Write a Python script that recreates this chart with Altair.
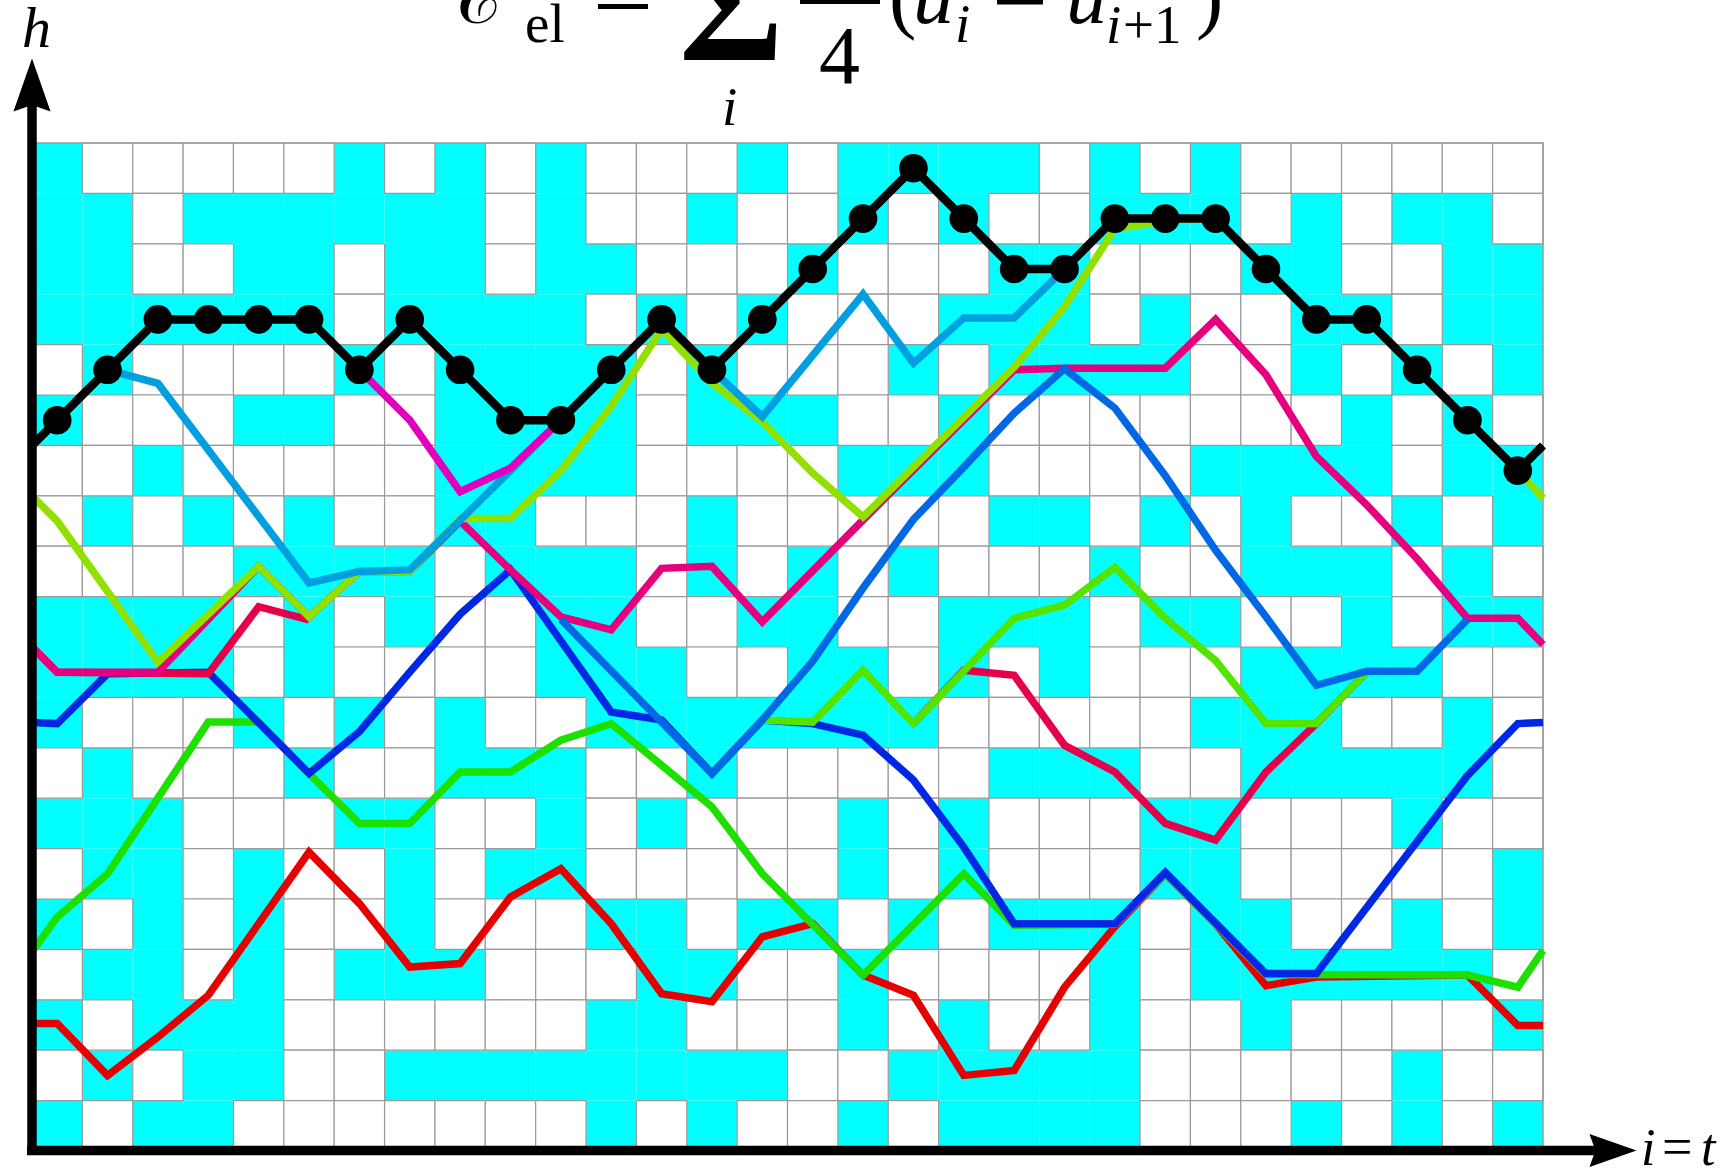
import altair as alt
import pandas as pd

N_COLS, N_ROWS = 30, 20

# Occupied (cyan) cells, one string per row from the top row down: '#' occupied, '.' empty
CELL_ROWS = [
    "#.....#.#." "#...#.####" ".#.#......",
    "##.######." "#..#..#.#." ".###.#.##.",
    "##..##.##." "##...#...#" "#...##..##",
    "######.###" "#.#.#...##" "#.#..##.##",
    ".#....#.##" "##.#...#.#" "###..#.#.#",
    "#...##..##" "##.###..#." "......#.#.",
    "..#.....##" "##....###." "...####.##",
    ".#.#.#..##" "...#.....#" "#.#.#..#.#",
    "....####.#" "##.#.#.#.." ".#..###.#.",
    "####.#.#.." "##..##..##" "#.##..#.##",
    "####.#...." "###..##.#." "#...####..",
    "#...#.#.#." ".#######.." "...###..#.",
    ".#...#..##" "#..#.....#" "##..#####.",
    "###...##.." "#.#...#.#." "..##...#..",
    ".##.#..#.#" "#.....#.#." "..##.....#",
    "#.#.#..#.." ".##.##.#.#" "##.##..#.#",
    ".##.#.###." "..##..#..." ".#.######.",
    "#.###....." ".##...#.#." ".#..#....#",
    ".#.##..###" "#####..###" "##.....#..",
    "#.##......" ".#.#..#.##" "##...#.#.#",
]

# Interface heights h at each column centre (top path, drawn with dots)
TOP_H = [14.5, 15.5, 16.5, 16.5, 16.5, 16.5, 15.5, 16.5, 15.5, 14.5,
         14.5, 15.5, 16.5, 15.5, 16.5, 17.5, 18.5, 19.5, 18.5, 17.5,
         17.5, 18.5, 18.5, 18.5, 17.5, 16.5, 16.5, 15.5, 14.5, 13.5]
TOP_EDGE = (14.0, 14.0)

# Other polymer paths: (i, h) vertices
SKY = [(1.5, 15.5), (2.5, 15.23), (5.5, 11.27), (6.5, 11.5), (7.5, 11.53), (9.5, 13.5),
       (10.5, 14.5), (11.5, 15.5), (12.5, 16.5), (13.5, 15.5), (14.5, 14.57), (16.5, 17.0),
       (17.5, 15.63), (18.5, 16.53), (19.5, 16.53), (20.5, 17.5)]
MAGENTA = [(6.5, 15.5), (7.5, 14.5), (8.5, 13.08), (9.5, 13.55), (10.5, 14.5)]
YELLOWGREEN = [(0, 13.0), (0.5, 12.5), (2.5, 9.7), (4.5, 11.6), (5.5, 10.6), (6.5, 11.5),
               (7.5, 11.5), (8.5, 12.55), (9.5, 12.55), (10.5, 13.5), (11.5, 14.78),
               (12.5, 16.3), (13.5, 15.24), (14.5, 14.47), (15.5, 13.45), (16.5, 12.58),
               (19.5, 15.55), (20.5, 16.75), (21.5, 18.3), (22.5, 18.45), (23.5, 18.5),
               (24.5, 17.5), (25.5, 16.5), (26.5, 16.5), (27.5, 15.5), (28.5, 14.5),
               (29.5, 13.5), (30, 12.95)]
PINK = [(0, 10.0), (0.5, 9.5), (2.5, 9.5), (4.5, 11.6), (5.5, 10.6), (6.5, 11.5), (7.5, 11.5),
        (8.5, 12.5), (9.5, 11.53), (10.5, 10.6), (11.5, 10.34), (12.5, 11.56), (13.5, 11.6),
        (14.5, 10.5), (16.5, 12.52), (19.5, 15.5), (20.5, 15.53), (21.5, 15.53), (22.5, 15.53),
        (23.5, 16.5), (24.5, 15.4), (25.5, 13.78), (26.5, 12.82), (27.5, 11.75), (28.5, 10.57),
        (29.5, 10.57), (30, 10.05)]
BLUE = [(0, 8.5), (0.5, 8.48), (1.5, 9.47), (3.5, 9.5), (5.5, 7.49), (6.5, 8.32), (7.5, 9.5),
        (8.5, 10.65), (9.5, 11.53), (10.5, 10.12), (11.5, 8.71), (12.5, 8.55), (13.5, 7.49),
        (14.5, 8.55), (15.5, 8.48), (16.5, 8.25), (17.5, 7.36), (18.5, 6.03), (19.5, 4.51),
        (21.5, 4.51), (22.5, 5.53), (24.5, 3.52), (25.5, 3.52), (28.5, 7.45), (29.5, 8.48),
        (30, 8.5)]
MIDBLUE = [(10.5, 10.55), (13.5, 7.49), (14.5, 8.55), (15.5, 9.72), (16.5, 11.17), (17.5, 12.53),
           (18.5, 13.57), (19.5, 14.64), (20.5, 15.52), (21.5, 14.74), (22.5, 13.4), (23.5, 11.92),
           (24.5, 10.6), (25.5, 9.24), (26.5, 9.52), (27.5, 9.52), (28.5, 10.55)]
GREEN = [(0, 3.95), (0.5, 4.64), (1.5, 5.5), (3.5, 8.51), (4.5, 8.51), (5.5, 7.49), (6.5, 6.5),
         (7.5, 6.5), (8.5, 7.52), (9.5, 7.52), (10.5, 8.15), (11.5, 8.48), (13.5, 6.83),
         (14.5, 5.5), (16.5, 3.49), (18.5, 5.5), (19.5, 4.48), (21.5, 4.5), (22.5, 5.5),
         (24.5, 3.5), (28.5, 3.49), (29.5, 3.25), (30, 3.98)]
LIME = [(14.5, 8.55), (15.5, 8.51), (16.5, 9.54), (17.5, 8.48), (18.5, 9.52), (19.5, 10.57),
        (20.5, 10.83), (21.5, 11.58), (22.5, 10.57), (23.5, 9.73), (24.5, 8.48), (25.5, 8.48),
        (26.5, 9.5)]
RED = [(0, 2.53), (0.5, 2.53), (1.5, 1.5), (2.5, 2.26), (3.5, 3.09), (5.5, 5.93), (6.5, 4.91),
       (7.5, 3.65), (8.5, 3.72), (9.5, 5.04), (10.5, 5.6), (11.5, 4.51), (12.5, 3.12),
       (13.5, 2.96), (14.5, 4.25), (15.5, 4.51), (16.5, 3.49), (17.5, 3.09), (18.5, 1.5),
       (19.5, 1.6), (20.5, 3.25), (21.5, 4.45), (22.5, 5.5), (23.5, 4.5), (24.5, 3.28),
       (25.5, 3.45), (28.5, 3.49), (29.5, 2.49), (30, 2.49)]
CRIMSON_A = [(0, 10.0), (0.5, 9.5), (3.5, 9.47), (4.5, 10.8), (5.5, 10.54)]
CRIMSON_B = [(17.5, 8.48), (18.5, 9.54), (19.5, 9.44), (20.5, 8.05), (21.5, 7.52), (22.5, 6.5),
             (23.5, 6.17), (24.5, 7.52), (25.5, 8.48), (26.5, 9.5)]

# ---- layout (page pixels) ----
OX, OY = 32, 143          # top-left corner of the lattice
GRID_W, GRID_H = 1511, 1008
PAGE_W, PAGE_H = 1728, 1172
SERIF = "Liberation Serif, DejaVu Serif, serif"
PATH_W, TOP_W = 7.5, 8.5

xs = alt.Scale(domain=[0, N_COLS], nice=False, zero=False)
ys = alt.Scale(domain=[0, N_ROWS], nice=False, zero=False)

# lattice cells
cells = []
for r, row in enumerate(CELL_ROWS):
    for c, ch in enumerate(row):
        top = N_ROWS - r
        cells.append({"x0": c, "x1": c + 1, "y0": top - 1, "y1": top,
                      "state": "occ" if ch == "#" else "empty"})
cells = pd.DataFrame(cells)

occupied = alt.Chart(cells).transform_filter(alt.datum.state == "occ").mark_rect(
    fill="#00FFFF", stroke=None
).encode(
    x=alt.X("x0:Q", scale=xs, axis=None), x2="x1:Q",
    y=alt.Y("y0:Q", scale=ys, axis=None), y2="y1:Q",
)
empty = alt.Chart(cells).transform_filter(alt.datum.state == "empty").mark_rect(
    fill="white", stroke="#9a9a9a", strokeWidth=1.2
).encode(
    x=alt.X("x0:Q", scale=xs, axis=None), x2="x1:Q",
    y=alt.Y("y0:Q", scale=ys, axis=None), y2="y1:Q",
)
border = alt.Chart(pd.DataFrame([{"x0": 0, "x1": N_COLS, "y0": 0, "y1": N_ROWS}])).mark_rect(
    fillOpacity=0, stroke="#9a9a9a", strokeWidth=1.5
).encode(
    x=alt.X("x0:Q", scale=xs, axis=None), x2="x1:Q",
    y=alt.Y("y0:Q", scale=ys, axis=None), y2="y1:Q",
)


def path_layer(points, color, width):
    df = pd.DataFrame({"i": [p[0] for p in points], "h": [p[1] for p in points],
                       "k": list(range(len(points)))})
    return alt.Chart(df).mark_line(
        color=color, strokeWidth=width, strokeJoin="miter", strokeCap="butt"
    ).encode(
        x=alt.X("i:Q", scale=xs, axis=None),
        y=alt.Y("h:Q", scale=ys, axis=None),
        order="k:Q",
    )


top_points = [(0, TOP_EDGE[0])] + [(c + 0.5, h) for c, h in enumerate(TOP_H)] + [(N_COLS, TOP_EDGE[1])]
dots_df = pd.DataFrame({"i": [c + 0.5 for c in range(N_COLS)], "h": TOP_H})
dots = alt.Chart(dots_df).mark_circle(size=820, color="black", opacity=1).encode(
    x=alt.X("i:Q", scale=xs, axis=None), y=alt.Y("h:Q", scale=ys, axis=None)
)

paths = [
    path_layer(RED, "#E60000", PATH_W),
    path_layer(GREEN, "#1EE000", PATH_W),
    path_layer(BLUE, "#0028E4", PATH_W),
    path_layer(CRIMSON_A, "#E6004A", PATH_W),
    path_layer(CRIMSON_B, "#E6004A", PATH_W),
    path_layer(LIME, "#55E400", PATH_W),
    path_layer(PINK, "#E6007E", PATH_W),
    path_layer(MIDBLUE, "#0068E4", PATH_W),
    path_layer(YELLOWGREEN, "#92E000", PATH_W),
    path_layer(SKY, "#00A0E0", PATH_W),
    path_layer(MAGENTA, "#E000BE", PATH_W),
    path_layer(top_points, "black", TOP_W),
    dots,
]

one = pd.DataFrame({"v": [0]})


def px(x):
    return x - OX


def py(y):
    return y - OY


# axes with arrow heads
ARROW = "M0,-1L0.7,1L0,0.75L-0.7,1Z"
v_axis = alt.Chart(one).mark_rule(color="black", strokeWidth=9.5, strokeCap="butt").encode(
    x=alt.value(px(32)), y=alt.value(py(1155)), y2=alt.value(py(100)))
h_axis = alt.Chart(one).mark_rule(color="black", strokeWidth=9.5, strokeCap="butt").encode(
    x=alt.value(px(27)), x2=alt.value(px(1600)), y=alt.value(py(1150.5)))
v_head = alt.Chart(one).mark_point(shape=ARROW, filled=True, fill="black", strokeWidth=0,
                                   size=2809, opacity=1).encode(
    x=alt.value(px(32)), y=alt.value(py(85)))
h_head = alt.Chart(one).mark_point(shape=ARROW, filled=True, fill="black", strokeWidth=0,
                                   size=2209, opacity=1, angle=90).encode(
    x=alt.value(px(1613)), y=alt.value(py(1150.5)))


def label(text, x, y, size, italic=False, bold=False):
    return alt.Chart(one).mark_text(
        align="left", baseline="alphabetic", font=SERIF, fontSize=size,
        fontStyle="italic" if italic else "normal",
        fontWeight="bold" if bold else "normal", color="black"
    ).encode(x=alt.value(px(x)), y=alt.value(py(y)), text=alt.value(text))


def bar(x1, x2, y, w):
    return alt.Chart(one).mark_rule(color="black", strokeWidth=w, strokeCap="butt").encode(
        x=alt.value(px(x1)), x2=alt.value(px(x2)), y=alt.value(py(y)))


texts = [
    label("h", 22, 47, 58, True),
    label("i", 1641, 1165, 52, True),
    label("=", 1662, 1165, 54),
    label("t", 1701, 1165, 52, True),
    # elastic energy formula
    label("\u2130", 458, 23, 82),
    label("el", 525, 42, 55),
    label("\u03a3", 679, 60, 160, bold=True),
    label("i", 722, 125, 55, True),
    label("4", 819, 83, 82),
    label("(", 889, 23, 82),
    label("u", 913, 23, 82, True),
    label("i", 955, 42, 55, True),
    label("u", 1066, 23, 82, True),
    label("i", 1106, 43, 55, True),
    label("+1", 1123, 43, 55),
    label(")", 1196, 23, 82),
]
bars = [
    bar(598, 648, 6.5, 5),     # lower stroke of '='
    bar(800, 880, 1.5, 5),     # fraction bar
    bar(997, 1043, 2, 5),      # minus sign
]

chart = alt.layer(
    occupied, empty, border, *paths, v_axis, h_axis, v_head, h_head, *bars, *texts
).properties(
    width=GRID_W, height=GRID_H,
    padding={"left": OX, "top": OY, "right": PAGE_W - OX - GRID_W, "bottom": PAGE_H - OY - GRID_H},
    autosize=alt.AutoSizeParams(type="none"),
    background="white",
).configure_view(stroke=None)

chart.save("out.html", embed_options={"renderer": "svg", "actions": False})
